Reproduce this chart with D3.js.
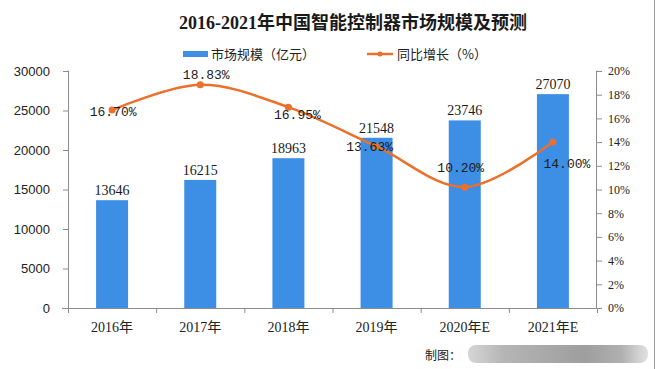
<!DOCTYPE html>
<html>
<head>
<meta charset="utf-8">
<script src="https://cdn.jsdelivr.net/npm/d3@7/dist/d3.min.js"></script>
<style>
  html, body { margin: 0; padding: 0; background: #fff; }
  svg { display: block; }
</style>
</head>
<body>
<svg id="chart" width="658" height="369"></svg>
<script>
const categories = ["2016年", "2017年", "2018年", "2019年", "2020年E", "2021年E"];
const marketSize = [13646, 16215, 18963, 21548, 23746, 27070];
const growth = [16.70, 18.83, 16.95, 13.63, 10.20, 14.00];
const growthLabels = ["16.70%", "18.83%", "16.95%", "13.63%", "10.20%", "14.00%"];
const leftTicks = [0, 5000, 10000, 15000, 20000, 25000, 30000];
const rightTicks = [0, 2, 4, 6, 8, 10, 12, 14, 16, 18, 20];

const svg = d3.select("#chart");
const W = 658, H = 369;
const m = { left: 68, right: 597, top: 71, bottom: 308 };

const serif = "'Liberation Serif', 'DejaVu Serif', 'Noto Sans CJK SC', serif";
const sans = "'Liberation Sans', Arial, 'Noto Sans CJK SC', sans-serif";
const cjk = "'Noto Sans CJK SC', 'Liberation Sans', sans-serif";

const x = d3.scaleBand().domain(categories).range([m.left, m.right]).paddingInner(0).paddingOuter(0);
const yL = d3.scaleLinear().domain([0, 30000]).range([m.bottom, m.top]);
const yR = d3.scaleLinear().domain([0, 20]).range([m.bottom, m.top]);

const blue = "#3D8FE5";
const orange = "#EC6F2A";
const axisColor = "#8c8c8c";

// frame line at right
svg.append("line").attr("x1", 654.5).attr("x2", 654.5).attr("y1", 0).attr("y2", H)
  .attr("stroke", "#9a9a9a").attr("stroke-width", 1);

// Title
svg.append("text").attr("x", 353).attr("y", 29).attr("text-anchor", "middle")
  .attr("font-family", serif).attr("font-weight", "bold").attr("font-size", 18)
  .attr("fill", "#1a1a1a").text("2016-2021年中国智能控制器市场规模及预测");

// Legend
const lg = svg.append("g");
lg.append("rect").attr("x", 183).attr("y", 51).attr("width", 25).attr("height", 6).attr("fill", blue);
lg.append("text").attr("x", 211).attr("y", 58.5).attr("font-family", cjk).attr("font-size", 13)
  .attr("fill", "#222").text("市场规模（亿元）");
lg.append("line").attr("x1", 367).attr("x2", 393).attr("y1", 54).attr("y2", 54)
  .attr("stroke", orange).attr("stroke-width", 2.5);
lg.append("circle").attr("cx", 380).attr("cy", 54).attr("r", 2.5).attr("fill", orange);
lg.append("text").attr("x", 397).attr("y", 58.5).attr("font-family", cjk).attr("font-size", 13)
  .attr("fill", "#222").text("同比增长（%）");

// Bars
const barW = 32;
svg.append("g").selectAll("rect").data(marketSize).join("rect")
  .attr("x", (d, i) => x(categories[i]) + x.bandwidth() / 2 - barW / 2)
  .attr("y", d => yL(d))
  .attr("width", barW)
  .attr("height", d => yL(0) - yL(d))
  .attr("fill", blue);

// Left axis
const leftAxis = d3.axisLeft(yL).tickValues(leftTicks).tickSize(5).tickPadding(13).tickFormat(d3.format("d"));
const gL = svg.append("g").attr("transform", `translate(${m.left},0)`).call(leftAxis);
gL.select(".domain").attr("stroke", axisColor).attr("d", `M-0.5,${m.top}H0.5V${m.bottom}`);
gL.selectAll(".tick line").attr("stroke", axisColor);
gL.selectAll(".tick text").attr("font-family", sans).attr("font-size", 13).attr("fill", "#222");

// Right axis
const rightAxis = d3.axisRight(yR).tickValues(rightTicks).tickSize(5).tickPadding(6).tickFormat(d => d + "%");
const gR = svg.append("g").attr("transform", `translate(${m.right},0)`).call(rightAxis);
gR.select(".domain").attr("stroke", axisColor).attr("d", `M0.5,${m.top}H-0.5V${m.bottom}`);
gR.selectAll(".tick line").attr("stroke", axisColor);
gR.selectAll(".tick text").attr("font-family", serif).attr("font-size", 12).attr("fill", "#222");

// Bottom axis
const bottomAxis = d3.axisBottom(x).tickSize(0).tickPadding(14);
const gB = svg.append("g").attr("transform", `translate(0,${m.bottom})`).call(bottomAxis);
gB.select(".domain").attr("stroke", axisColor).attr("d", `M${m.left - 6},0.5H${m.right}`);
gB.selectAll(".tick text").attr("font-family", serif).attr("font-size", 14).attr("fill", "#222");
// category boundary ticks
const bounds = categories.map(c => x(c)).concat([m.right]);
gB.append("g").selectAll("line").data(bounds).join("line")
  .attr("x1", d => d + 0.5).attr("x2", d => d + 0.5).attr("y1", 0).attr("y2", 5)
  .attr("stroke", axisColor);

// Bar value labels
svg.append("g").selectAll("text").data(marketSize).join("text")
  .attr("x", (d, i) => x(categories[i]) + x.bandwidth() / 2)
  .attr("y", d => yL(d) - 5)
  .attr("text-anchor", "middle")
  .attr("font-family", serif).attr("font-size", 14).attr("fill", "#1a1a1a")
  .text(d => d);

// Growth line
const pts = growth.map((g, i) => [x(categories[i]) + x.bandwidth() / 2, yR(g)]);
svg.append("path").datum(pts)
  .attr("d", d3.line().curve(d3.curveCardinal.tension(0)))
  .attr("fill", "none").attr("stroke", orange).attr("stroke-width", 2.5);
svg.append("g").selectAll("circle").data(pts).join("circle")
  .attr("cx", d => d[0]).attr("cy", d => d[1]).attr("r", 3.5).attr("fill", orange);

// Growth labels (offsets relative to point)
const lblOff = [[1, 6], [6, -6], [9, 12], [-7, 5], [-4, -15], [14, 26]];
svg.append("g").selectAll("text").data(growthLabels).join("text")
  .attr("x", (d, i) => pts[i][0] + lblOff[i][0])
  .attr("y", (d, i) => pts[i][1] + lblOff[i][1])
  .attr("text-anchor", "middle")
  .attr("font-family", "'Liberation Mono', 'DejaVu Sans Mono', monospace").attr("font-size", 13)
  .attr("fill", "#1a1a1a")
  .text(d => d);

// Footer
svg.append("text").attr("x", 425).attr("y", 360).attr("font-family", cjk).attr("font-size", 12)
  .attr("fill", "#222").text("制图：");
const grad = svg.append("defs").append("linearGradient").attr("id", "blur").attr("x1", 0).attr("x2", 1);
[["0%", "#d6d6d6"], ["20%", "#b5b5b5"], ["45%", "#a8a8a8"], ["65%", "#9e9e9e"], ["85%", "#b0b0b0"], ["100%", "#e2e2e2"]]
  .forEach(s => grad.append("stop").attr("offset", s[0]).attr("stop-color", s[1]));
svg.append("rect").attr("x", 468).attr("y", 345).attr("width", 180).attr("height", 18).attr("rx", 8)
  .attr("fill", "url(#blur)");
</script>
</body>
</html>
